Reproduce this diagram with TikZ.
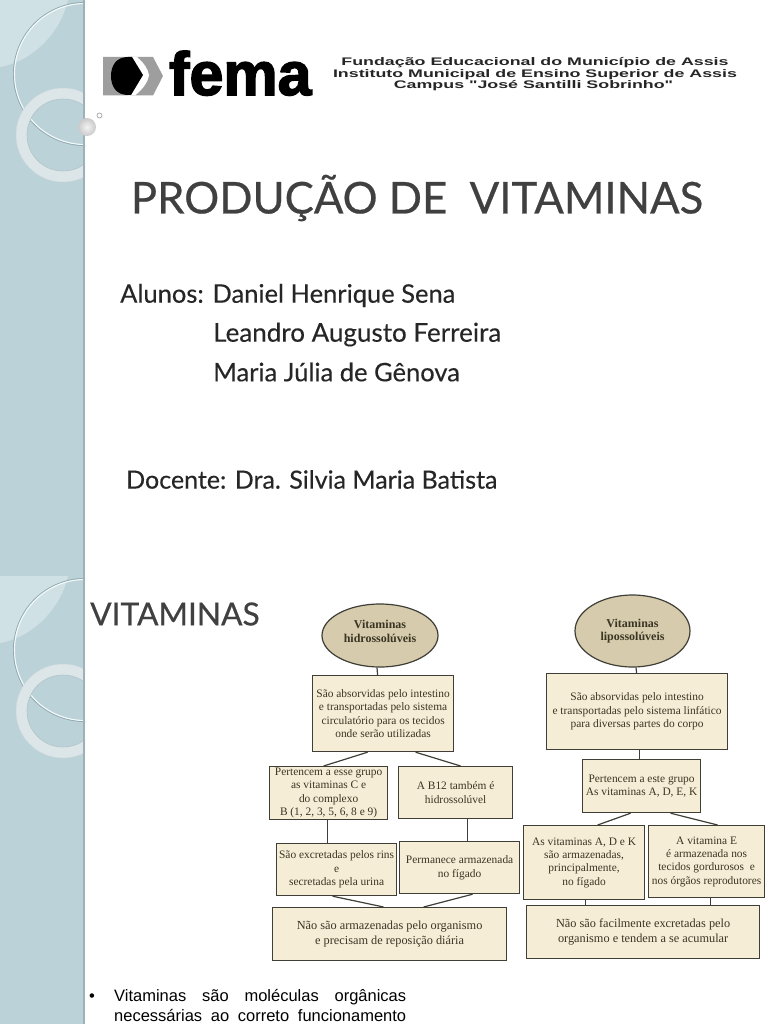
\documentclass[tikz,border=0pt]{standalone}
\usepackage{fontspec}
\usetikzlibrary{shapes.geometric,calc}
\setmainfont{Lato}
\newfontfamily\boxfont{Liberation Serif}
\newfontfamily\headfont[FakeStretch=1.62]{Liberation Sans}
\newfontfamily\bodyfont{Liberation Sans}
\newfontfamily\femafont[FakeBold=2.5]{Liberation Sans}
\newfontfamily\titlefont[FakeBold=0.5]{Lato}
\newfontfamily\namefont[FakeBold=0.25]{Lato}
\definecolor{side}{HTML}{BAD2D8}
\definecolor{sideedge}{HTML}{9DB2B8}
\definecolor{hilite}{HTML}{D0E1E5}
\definecolor{ringc}{HTML}{DCE5E7}
\definecolor{arcc}{HTML}{8FAAB0}
\definecolor{boxfill}{HTML}{F6EDD6}
\definecolor{ovalfill}{HTML}{D6CBAC}
\definecolor{boxline}{HTML}{3F3F38}
\definecolor{boxtext}{HTML}{3A3524}
\definecolor{titlec}{HTML}{404040}
\tikzset{
  x=1pt,y=-1pt,
  vbox/.style={draw=boxline,line width=1.2pt,fill=boxfill,align=center,inner sep=0pt,
    text=boxtext,font=\boxfont\fontsize{11.4}{13.4}\selectfont,anchor=north west},
  bigbox/.style={vbox,font=\boxfont\fontsize{12.3}{15}\selectfont},
  voval/.style={ellipse,draw=boxline,line width=1.2pt,fill=ovalfill,align=center,inner sep=0pt,
    text=boxtext,font=\boxfont\bfseries\fontsize{12}{13.2}\selectfont},
  link/.style={draw=boxline,line width=1.2pt},
  slidetext/.style={anchor=west,inner sep=0pt,text=black!85,font=\namefont\fontsize{25.5}{28}\selectfont},
  headline/.style={inner sep=0pt,font=\headfont\bfseries\fontsize{11}{12}\selectfont,text=black!85},
  lowtext/.style={anchor=base west,inner sep=0pt,font=\bodyfont\fontsize{16.5}{18}\selectfont},
}
\newcommand{\sidedeco}[1]{%
  \begin{scope}[yshift=#1]
    \clip (0,0) rectangle (85,448);
    \fill[hilite] (0,0) -- (68,0) .. controls (60,35) and (30,62) .. (0,67) -- cycle;
    \draw[arcc,line width=1pt] (85,74) circle[radius=71.5];
    \draw[white!85!side,line width=1.1pt] (85,74) circle[radius=70.5];
    \draw[ringc,line width=11pt] (63,135) circle[radius=41.5];
    \draw[arcc!70!white,line width=.6pt] (63,135) circle[radius=36];
    \draw[arcc!45!white,line width=.5pt] (63,135) circle[radius=47];
  \end{scope}}
\begin{document}
\begin{tikzpicture}
\useasboundingbox (0,0) rectangle (768,1024);
\fill[white] (0,0) rectangle (768,1024);
% sidebar
\fill[side] (0,0) rectangle (85,1024);
\sidedeco{0pt}
\sidedeco{-576pt}
\fill[sideedge] (82.5,0) rectangle (85,1024);
\shade[inner color=gray!10,outer color=gray!42] (87,127) circle[radius=9];
\draw[gray!70,line width=.7pt,fill=white] (99.5,115.5) circle[radius=2.5];
% logo
\fill[black!38] (103,57) -- (153,57) -- (163,76) -- (153,95.5) -- (103,95.5) -- cycle;
\fill[white] (130,57) -- (137,57) .. controls (144,63) and (148,69) .. (149,75) .. controls (148,82) and (143,89) .. (135,95.5) -- (128,95.5) -- cycle;
\fill[black] (128,57) .. controls (116,57) and (111,66) .. (111,76) .. controls (111,86) and (116,95) .. (128,95) -- (131,95) -- (143,75) -- (132,57) -- cycle;
\node[anchor=base west,inner sep=0pt,font=\femafont\bfseries\fontsize{61}{61}\selectfont] (fema) at (169,95) {fema};
% header
\node[headline] (h1) at (535,62.5) {Fundação Educacional do Município de Assis};
\node[headline] (h2) at (535,74.5) {Instituto Municipal de Ensino Superior de Assis};
\node[headline] (h3) at (533.5,86) {Campus "José Santilli Sobrinho"};
% titles
\node[anchor=center,inner sep=0pt,text=titlec,font=\titlefont\fontsize{43.7}{48}\selectfont] (title) at (417,198) {PRODUÇÃO DE\ \ VITAMINAS};
\node[slidetext] (a1) at (120,295.5) {Alunos: Daniel Henrique Sena};
\node[slidetext,font=\namefont\fontsize{26}{28}\selectfont] (a2) at (213,334.5) {Leandro Augusto Ferreira};
\node[slidetext] (a3) at (213,372) {Maria Júlia de Gênova};
\node[slidetext,font=\namefont\fontsize{25}{28}\selectfont] (doc) at (126,479.5) {Docente: Dra. Silvia Maria Batista};
\node[anchor=west,inner sep=0pt,text=titlec,font=\titlefont\fontsize{31.7}{36}\selectfont] (vit) at (90,614) {VITAMINAS};
% bottom text
\node[lowtext] (bul) at (89,1001) {•};
\node[lowtext] (t1) at (114,1001) {\makebox[292pt][s]{Vitaminas são moléculas orgânicas}};
\node[lowtext] (t2) at (114,1021) {\makebox[292pt][s]{necessárias ao correto funcionamento}};
% left diagram
\node[voval,minimum width=116pt,minimum height=63pt] (le) at (380,635.5) {Vitaminas\\hidrossolúveis\\[-5pt]\mbox{}};
\node[vbox,minimum width=141pt,minimum height=76pt] (l1) at (312,675) {São absorvidas pelo intestino\\e transportadas pelo sistema\\circulatório para os tecidos\\onde serão utilizadas};
\node[vbox,minimum width=118pt,minimum height=53pt] (l2) at (269,766) {Pertencem a esse grupo\\as vitaminas C e\\do complexo\\B (1, 2, 3, 5, 6, 8 e 9)};
\node[vbox,minimum width=114pt,minimum height=52pt] (l3) at (398,766) {A B12 também é\\hidrossolúvel};
\node[vbox,minimum width=120pt,minimum height=52pt] (l4) at (276,843) {São excretadas pelos rins\\e\\secretadas pela urina};
\node[vbox,minimum width=120pt,minimum height=52pt] (l5) at (399,841) {Permanece armazenada\\no fígado};
\node[bigbox,minimum width=234pt,minimum height=53pt] (l6) at (272,907) {Não são armazenadas pelo organismo\\e precisam de reposição diária};
\draw[link] ([xshift=-3pt]le.south) -- ([xshift=-5.5pt]l1.north);
\draw[link] ([xshift=-15.5pt]l1.south) -- ([xshift=-5pt]l2.north);
\draw[link] ([xshift=32.5pt]l1.south) -- ([xshift=5pt]l3.north);
\draw[link] (l2.south -| l4.north) ++(-9,0) -- ([xshift=-9pt]l4.north);
\draw[link] (l3.south -| l5.north) ++(8,0) -- ([xshift=8pt]l5.north);
\draw[link] ([xshift=-4pt]l4.south) -- ([xshift=-6pt]l6.north);
\draw[link] ([xshift=13pt]l5.south) -- ([xshift=34pt]l6.north);
% right diagram
\node[voval,minimum width=115pt,minimum height=72pt] (re) at (632.5,631) {Vitaminas\\lipossolúveis};
\node[vbox,minimum width=181pt,minimum height=76pt] (r1) at (546,673) {São absorvidas pelo intestino\\e transportadas pelo sistema linfático\\para diversas partes do corpo};
\node[vbox,minimum width=118pt,minimum height=53pt] (r2) at (582,759) {Pertencem a este grupo\\As vitaminas A, D, E, K};
\node[vbox,minimum width=121pt,minimum height=74pt] (r3) at (523,825) {As vitaminas A, D e K\\são armazenadas,\\principalmente,\\no fígado};
\node[vbox,minimum width=116pt,minimum height=72pt] (r4) at (648,825) {A vitamina E\\é armazenada nos\\tecidos gordurosos\ \ e\\nos órgãos reprodutores};
\node[bigbox,minimum width=233pt,minimum height=53pt] (r5) at (526,905) {Não são facilmente excretadas pelo\\organismo e tendem a se acumular};
\draw[link] ([xshift=3.5pt]re.south) -- ([xshift=-0.5pt]r1.north);
\draw[link] ([xshift=2.5pt]r1.south) -- ([xshift=-2pt]r2.north);
\draw[link] ([xshift=-11pt]r2.south) -- ([xshift=13.5pt]r3.north);
\draw[link] ([xshift=29pt]r2.south) -- ([xshift=11pt]r4.north);
\draw[link] ([xshift=1.5pt]r3.south) -- ([xshift=-57.5pt]r5.north);
\draw[link] ([xshift=4pt]r4.south) -- ([xshift=67.5pt]r5.north);
\end{tikzpicture}
\end{document}
